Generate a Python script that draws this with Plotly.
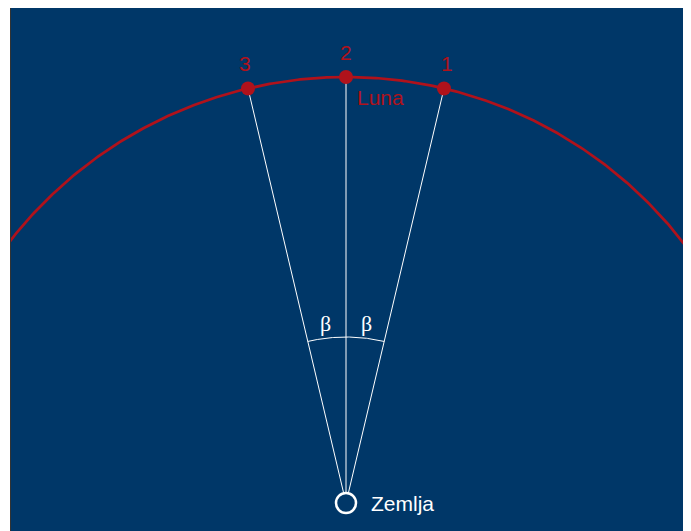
import numpy as np
import plotly.graph_objects as go

# Data
moon_labels = ["1", "2", "3"]
moon_angles_deg = [76.7, 90.0, 103.3]   # angle of Moon position seen from Earth
orbit_radius = 426
beta_arc_radius = 166
beta_labels = ["β", "β"]
earth_label = "Zemlja"
moon_name = "Luna"

BG = "#003768"
RED = "#b0121b"

fig = go.Figure()

# orbit arc
t = np.linspace(np.radians(20), np.radians(160), 400)
fig.add_trace(go.Scatter(x=orbit_radius * np.cos(t), y=orbit_radius * np.sin(t),
                         mode="lines", line=dict(color=RED, width=2.7), hoverinfo="skip"))

# sight lines
for a in moon_angles_deg:
    r = np.radians(a)
    fig.add_trace(go.Scatter(x=[0, orbit_radius * np.cos(r)], y=[0, orbit_radius * np.sin(r)],
                             mode="lines", line=dict(color="white", width=1), hoverinfo="skip"))

# beta arc
tb = np.linspace(np.radians(min(moon_angles_deg)), np.radians(max(moon_angles_deg)), 100)
fig.add_trace(go.Scatter(x=beta_arc_radius * np.cos(tb), y=beta_arc_radius * np.sin(tb),
                         mode="lines", line=dict(color="white", width=1), hoverinfo="skip"))

# moon points
mx = [orbit_radius * np.cos(np.radians(a)) for a in moon_angles_deg]
my = [orbit_radius * np.sin(np.radians(a)) for a in moon_angles_deg]
fig.add_trace(go.Scatter(x=mx, y=my, mode="markers",
                         marker=dict(color=RED, size=14, line=dict(width=0)), hoverinfo="skip"))

# earth
fig.add_trace(go.Scatter(x=[0], y=[0], mode="markers",
                         marker=dict(color=BG, size=20, line=dict(color="white", width=2.5)),
                         hoverinfo="skip"))

font_sans = "Liberation Sans, Arial, sans-serif"
for lab, x, y, a in zip(moon_labels, mx, my, moon_angles_deg):
    dx = 0 if a == 90 else (3 if a < 90 else -3)
    fig.add_annotation(x=x, y=y, text=lab, showarrow=False, xshift=dx, yshift=25,
                       font=dict(color=RED, size=21, family=font_sans))

fig.add_annotation(x=mx[1], y=my[1], text=moon_name, showarrow=False, xshift=34, yshift=-20,
                   font=dict(color=RED, size=21, family=font_sans))
fig.add_annotation(x=0, y=0, text=earth_label, showarrow=False, xshift=56, yshift=0,
                   font=dict(color="white", size=21, family=font_sans))

# beta labels
for lab, a in zip(beta_labels, [(moon_angles_deg[1] + moon_angles_deg[2]) / 2,
                                (moon_angles_deg[0] + moon_angles_deg[1]) / 2]):
    r = np.radians(a)
    fig.add_annotation(x=(beta_arc_radius + 15) * np.cos(r), y=(beta_arc_radius + 15) * np.sin(r),
                       text=lab, showarrow=False,
                       font=dict(color="white", size=22, family="Liberation Serif, Times New Roman, serif"))

fig.update_layout(
    width=675, height=524,
    margin=dict(l=3, r=0, t=0, b=0),
    paper_bgcolor="white", plot_bgcolor=BG,
    showlegend=False,
)
fig.update_xaxes(range=[-335, 337], visible=True, showgrid=False, zeroline=False,
                 showticklabels=False, ticks="", showline=True, mirror=True, linecolor="#333", linewidth=1)
fig.update_yaxes(range=[-29, 495], visible=True, showgrid=False, zeroline=False,
                 showticklabels=False, ticks="", showline=True, mirror=True, linecolor="#333", linewidth=1)

fig.write_html("out.html")
